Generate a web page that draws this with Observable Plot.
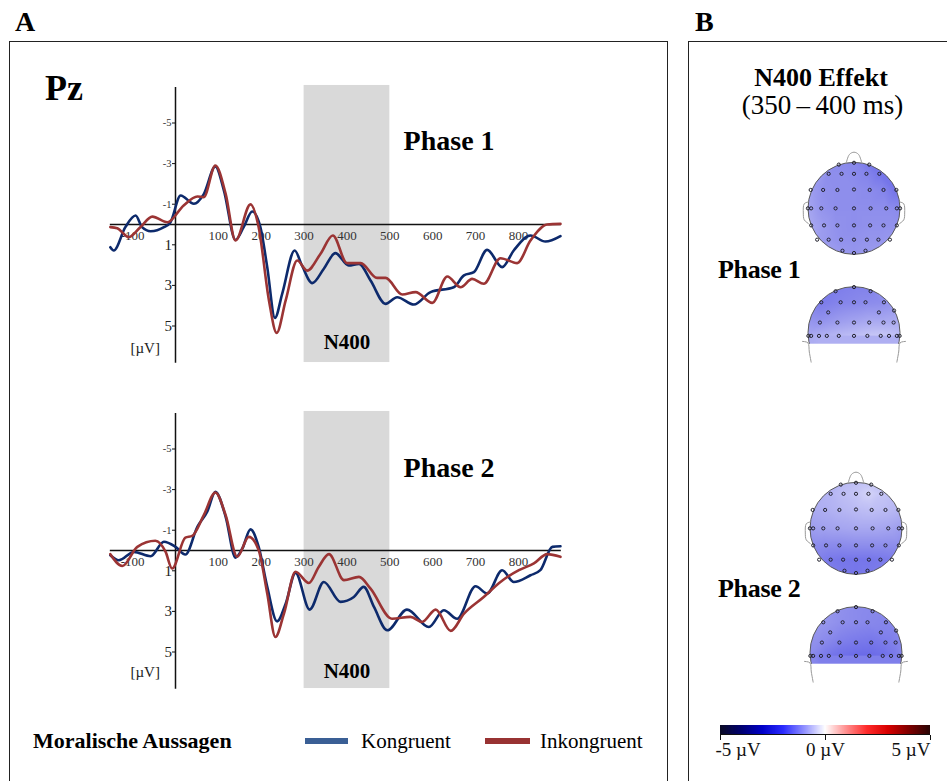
<!DOCTYPE html>
<html>
<head>
<meta charset="utf-8">
<script src="https://cdn.jsdelivr.net/npm/d3@7"></script>
<script src="https://cdn.jsdelivr.net/npm/@observablehq/plot@0.6"></script>
<style>
  body { margin: 0; background: #fff; }
  #fig { position: relative; width: 947px; height: 781px; overflow: hidden; background: #fff;
         font-family: "Liberation Serif", "Times New Roman", serif; color: #000; }
  .abs { position: absolute; line-height: 1; white-space: nowrap; }
  .box { position: absolute; border: 1.4px solid #222; }
  .b { font-weight: bold; }
</style>
</head>
<body>
<div id="fig">
  <div class="box" style="left:9px;top:41px;width:657px;height:780px;"></div>
  <div class="box" style="left:688px;top:41px;width:290px;height:780px;"></div>
  <div class="abs b" style="left:15px;top:8.3px;font-size:28px;">A</div>
  <div class="abs b" style="left:695px;top:8.3px;font-size:28px;">B</div>
  <div class="abs b" style="left:45px;top:69.9px;font-size:36px;">Pz</div>

  <div id="erp1" class="abs" style="left:100px;top:80px;"></div>
  <div id="erp2" class="abs" style="left:100px;top:406.3px;"></div>

  <div class="abs b" style="left:33px;top:729.9px;font-size:22px;">Moralische Aussagen</div>
  <div class="abs" style="left:305px;top:738px;width:43px;height:6px;background:#3a5f95;"></div>
  <div class="abs" style="left:361px;top:731.4px;font-size:21px;">Kongruent</div>
  <div class="abs" style="left:485px;top:738px;width:45px;height:6px;background:#983232;"></div>
  <div class="abs" style="left:540px;top:731.4px;font-size:21px;">Inkongruent</div>

  <div class="abs b" style="left:700px;width:242px;text-align:center;top:64.5px;font-size:26px;">N400 Effekt</div>
  <div class="abs" style="left:700px;width:245px;text-align:center;top:91.6px;font-size:27px;">(350&#8201;–&#8201;400 ms)</div>
  <div class="abs b" style="left:718px;top:256.5px;font-size:26px;letter-spacing:-0.3px;">Phase 1</div>
  <div class="abs b" style="left:718px;top:575.5px;font-size:26px;letter-spacing:-0.3px;">Phase 2</div>

  <div id="topo1" class="abs" style="left:788.5px;top:148.1px;"></div>
  <div id="topo2" class="abs" style="left:790.5px;top:468.1px;"></div>

  <div id="cbar" class="abs" style="left:710px;top:725px;"></div>
  <div class="abs" style="left:720px;top:734px;width:210px;height:1.2px;background:#111;"></div>
</div>

<script>
// ---------------- DATA ----------------
// ERP time axis (ms) and N400 window
const xTicks = [-100, 100, 200, 300, 400, 500, 600, 700, 800];
const yTicks = [-5, -3, -1, 1, 3, 5];
const n400Window = [{start: 300, end: 500}];

// Phase 1 — Kongruent (blue)
const p1KongT = [-152,-144,-117,-93,-78,-58,-27,-12,12,43,66,93,113,140,159,179,198,214,232,249,278,295,319,346,373,404,428,455,490,517,556,595,649,673,696,727,762,789,828,863,898];
const p1KongV = [1.12,1.28,0.13,-0.44,0.13,0.33,0.13,-0.1,-1.43,-1.02,-1.5,-2.86,-1.67,0.76,0.13,-0.64,0.13,2.1,4.6,3.4,1.28,2.02,2.89,2.18,1.41,2.02,1.94,2.76,3.91,3.58,3.94,3.33,3.09,2.51,2.35,1.25,2.1,1.28,0.54,0.84,0.57];
// Phase 1 — Inkongruent (red)
const p1InkT = [-152,-136,-109,-82,-54,-19,19,51,66,93,117,140,175,194,218,236,257,284,307,338,367,400,432,470,490,529,560,599,634,665,692,719,758,797,828,867,898];
const p1InkV = [0.13,0.18,0.62,0.13,-0.39,-0.11,-0.94,-1.38,-1.35,-2.91,-1.51,0.79,-0.99,0.13,3.74,5.34,3.74,1.77,2.27,1.45,0.54,1.9,1.9,2.63,2.63,3.45,3.33,3.86,2.56,3.09,2.68,2.92,1.66,1.9,0.79,0,-0.03];
// Phase 2 — Kongruent (blue)
const p2KongT = [-152,-132,-97,-58,-27,0,23,51,74,93,117,140,156,175,194,214,237,257,280,313,346,385,416,439,463,494,540,591,626,657,700,727,762,789,828,851,879,898];
const p2KongV = [0.23,0.48,0.07,0.28,-0.43,-0.18,0.2,-1.17,-1.91,-2.89,-1.66,0.35,-0.1,-1.04,-0.18,1.79,3.49,2.62,1.1,2.91,1.55,2.53,2.29,1.79,2.78,3.93,2.91,3.77,2.94,3.36,1.76,2.12,0.97,1.55,1.22,0.97,-0.18,-0.21];
// Phase 2 — Inkongruent (red)
const p2InkT = [-152,-124,-89,-47,-23,-8,23,39,66,93,117,144,171,194,214,233,253,280,311,334,358,393,428,455,505,548,575,607,642,673,719,758,801,836,867,898];
const p2InkV = [0.18,0.76,-0.18,-0.48,0.07,0.89,-0.63,-0.72,-1.74,-2.86,-1.74,0.31,-0.67,-0.02,2.12,4.26,3.11,1.05,1.6,0.81,0.18,1.46,1.3,1.88,3.36,3.27,3.52,2.91,3.96,3.11,2.29,1.55,0.97,0.64,0.18,0.31];

// Electrode layout (head-radius units), top view and back view
const topX = [-0.33,0,0.33, -0.55,-0.27,0,0.27,0.55, -0.94,-0.67,-0.36,0,0.34,0.64,0.92,
              -1.0,-0.93,-0.71,-0.4,0,0.36,0.7,0.93,1.0, -0.93,-0.65,-0.36,0,0.35,0.64,0.93,
              -0.8,-0.55,-0.28,0,0.28,0.53,0.78, -0.25,0,0.25];
const topY = [0.95,0.99,0.95, 0.75,0.75,0.75,0.75,0.75, 0.4,0.4,0.4,0.41,0.4,0.4,0.4,
              0,0,0,0,0,0,0,0,0, -0.37,-0.37,-0.37,-0.37,-0.37,-0.37,-0.37,
              -0.68,-0.68,-0.68,-0.68,-0.68,-0.68,-0.68, -0.92,-0.97,-0.92];
const backX = [0, -0.4,0.36, -0.71,-0.29,0,0.25,0.65, -0.56,0.54,0.87,
               -0.74,-0.36,0,0.33,0.64,0.86,
               -0.99,-0.93,-0.76,-0.59,-0.33,0,0.29,0.58,0.76,0.93,0.99];
const backY = [0.99, 0.9,0.9, 0.66,0.66,0.66,0.66,0.66, 0.44,0.44,0.48,
               0.22,0.22,0.22,0.22,0.22,0.22,
               -0.07,-0.07,-0.07,-0.07,-0.07,-0.07,-0.07,-0.07,-0.07,-0.07,-0.07];

// N400 effect amplitudes (µV) per electrode
const p1TopV = [-1.5,-1.55,-1.8, -1.45,-1.45,-1.5,-1.6,-1.85, -1.2,-1.4,-1.45,-1.45,-1.5,-1.6,-1.9,
                -1.1,-1.15,-1.35,-1.45,-1.45,-1.45,-1.45,-1.5,-1.5, -1.05,-1.25,-1.4,-1.45,-1.4,-1.4,-1.4,
                -1.2,-1.3,-1.4,-1.4,-1.35,-1.35,-1.3, -1.3,-1.35,-1.3];
const p1BackV = [-1.65, -1.7,-1.6, -1.75,-1.6,-1.55,-1.5,-1.45, -1.5,-1.25,-1.2,
                 -1.35,-1.2,-1.1,-1.0,-1.0,-1.0,
                 -1.05,-1.0,-0.95,-0.9,-0.8,-0.7,-0.6,-0.55,-0.6,-0.65,-0.7];
const p2TopV = [-0.8,-0.7,-0.6, -0.85,-0.7,-0.6,-0.45,-0.6, -1.0,-0.95,-0.85,-0.75,-0.7,-0.75,-0.85,
                -1.2,-1.2,-1.15,-1.1,-1.05,-1.05,-1.1,-1.2,-1.2, -1.45,-1.5,-1.5,-1.45,-1.45,-1.45,-1.45,
                -1.7,-1.8,-1.85,-1.85,-1.85,-1.8,-1.75, -1.8,-1.85,-1.8];
const p2BackV = [-1.5, -1.4,-1.55, -1.3,-1.45,-1.5,-1.55,-1.6, -1.45,-1.65,-1.6,
                 -1.5,-1.7,-1.8,-1.85,-1.75,-1.65,
                 -1.5,-1.55,-1.7,-1.85,-2.0,-2.1,-2.1,-2.0,-1.85,-1.7,-1.6];

// Head outline decorations (nose, ears, back-view ears)
const headParts = ["nose","nose","nose","nose","nose",
                   "earL","earL","earL","earL","earL",
                   "earR","earR","earR","earR","earR",
                   "backL","backL","backL","backL",
                   "backR","backR","backR","backR"];
const headPartX = [-0.17,-0.1,0,0.1,0.17, -0.99,-1.08,-1.1,-1.08,-0.99, 0.99,1.08,1.1,1.08,0.99,
                   -1.12,-1.0,-0.97,-0.93, 1.12,1.0,0.97,0.93];
const headPartY = [0.98,1.17,1.22,1.17,0.98, 0.14,0.1,-0.1,-0.25,-0.33, 0.14,0.1,-0.1,-0.25,-0.33,
                   -0.19,-0.22,-0.42,-0.64, -0.19,-0.22,-0.42,-0.64];
const backPartOffset = -2.7;

// Colour scales
const topoStops = [-2.5, -1.85, -1.45, -0.6, 0];
const topoColors = ["#5858e4", "#7676ea", "#8e8eec", "#c6c6f6", "#ffffff"];
const cbStops = [-5, -4.2, -3, -2, -1, 0, 1, 2, 3, 4.2, 5];
const cbColors = ["#0b0b26","#000070","#0000c8","#2b2bff","#9090ff","#ffffff","#ff9090","#ff2b2b","#d80000","#800000","#2a0505"];

// ---------------- DRAWING ----------------
const SERIF = "'Liberation Serif', 'Times New Roman', serif";
const BLUE = "#0d2a6c", RED = "#9b3434";

function erpPlot(kT, kV, iT, iV, label, labelY, n400Y, unitY) {
  const kong = kT.map((t, i) => ({t, v: kV[i]}));
  const inko = iT.map((t, i) => ({t, v: iV[i]}));
  return Plot.plot({
    width: 470, height: 290, margin: 0,
    x: {domain: [-174.95, 921.4], axis: null},
    y: {domain: [7.192, -7.094], axis: null},
    style: {fontFamily: SERIF, background: "transparent", overflow: "visible"},
    marks: [
      Plot.rect(n400Window, {x1: "start", x2: "end", y1: () => -6.85, y2: () => 6.8, fill: "#d9d9d9"}),
      Plot.ruleY([0], {x1: () => -152, x2: () => 900, stroke: "#111", strokeWidth: 1.3}),
      Plot.ruleX([0], {y1: () => -6.75, y2: () => 6.83, stroke: "#111", strokeWidth: 1.5}),
      Plot.ruleY(yTicks, {y: d => d, x1: () => -7, x2: () => 0, stroke: "#111", strokeWidth: 1}),
      Plot.text(xTicks, {x: d => d, y: () => 0, dy: 11, text: d => String(d), fontSize: 13, fill: "#333"}),
      Plot.text(yTicks.filter(d => d < 0), {x: () => 0, y: d => d, dx: -4, text: d => String(d), textAnchor: "end", fontSize: 10.5, fill: "#333"}),
      Plot.text(yTicks.filter(d => d > 0), {x: () => 0, y: d => d, dx: -3.5, text: d => String(d), textAnchor: "end", fontSize: 15, fill: "#222"}),
      Plot.line(kong, {x: "t", y: "v", stroke: BLUE, strokeWidth: 2.6, curve: "monotone-x"}),
      Plot.line(inko, {x: "t", y: "v", stroke: RED, strokeWidth: 2.6, curve: "monotone-x"}),
      Plot.text([label], {x: () => 532, y: () => labelY, text: d => d, textAnchor: "start", fontSize: 28, fontWeight: "bold"}),
      Plot.text(["N400"], {x: () => 400, y: () => n400Y, text: d => d, fontSize: 21, fontWeight: "bold"}),
      Plot.text(["[µV]"], {x: () => -70.7, y: () => unitY, text: d => d, fontSize: 15, fill: "#222"})
    ]
  });
}

document.getElementById("erp1").appendChild(erpPlot(p1KongT, p1KongV, p1InkT, p1InkV, "Phase 1", -4.09, 5.79, 6.07));
document.getElementById("erp2").appendChild(erpPlot(p2KongT, p2KongV, p2InkT, p2InkV, "Phase 2", -4.07, 5.93, 6.0));

const NS = "http://www.w3.org/2000/svg";
function topomap(topV, backV, id) {
  const topData = topX.map((x, i) => ({x, y: topY[i], v: topV[i]}));
  const backData = backX.map((x, i) => ({x, y: backY[i] + backPartOffset, v: backV[i]}));
  const deco = headParts.map((p, i) => ({p, x: headPartX[i], y: headPartY[i] + (p.startsWith("back") ? backPartOffset : 0)}));
  const svg = Plot.plot({
    width: 129, height: 221, margin: 0,
    x: {domain: [-1.4, 1.4], axis: null},
    y: {domain: [-3.5, 1.3], axis: null},
    color: {type: "linear", domain: topoStops, range: topoColors},
    style: {background: "transparent", overflow: "visible"},
    marks: [
      Plot.raster(topData, {x: "x", y: "y", fill: "v", x1: -1.03, x2: 1.03, y1: -1.03, y2: 1.03, interpolate: "barycentric"}),
      Plot.raster(backData, {x: "x", y: "y", fill: "v", x1: -1.03, x2: 1.03, y1: backPartOffset - 0.24, y2: backPartOffset + 1.03, interpolate: "barycentric"}),
      Plot.dot([{x: 0, y: 0}], {x: "x", y: "y", r: 46, stroke: "#5a5a5a", strokeWidth: 1, fill: "none"}),
      Plot.dot([{x: 0, y: backPartOffset}], {x: "x", y: "y", r: 46, stroke: "#5a5a5a", strokeWidth: 1, fill: "none"}),
      Plot.line(deco, {x: "x", y: "y", z: "p", stroke: "#999", strokeWidth: 1, curve: "catmull-rom"}),
      Plot.dot(topData, {x: "x", y: "y", r: 1.6, stroke: "#22222e", strokeWidth: 1, fill: "none"}),
      Plot.dot(backData, {x: "x", y: "y", r: 1.6, stroke: "#22222e", strokeWidth: 1, fill: "none"})
    ]
  });
  const sx = svg.scale("x"), sy = svg.scale("y");
  const cx = sx.apply(0), cyT = sy.apply(0), cyB = sy.apply(backPartOffset), cut = sy.apply(backPartOffset - 0.24);
  const defs = document.createElementNS(NS, "defs");
  svg.insertBefore(defs, svg.firstChild);
  function clip(cid, el) {
    const cp = document.createElementNS(NS, "clipPath");
    cp.setAttribute("id", cid); cp.appendChild(el); defs.appendChild(cp);
  }
  const c1 = document.createElementNS(NS, "circle");
  c1.setAttribute("cx", cx); c1.setAttribute("cy", cyT); c1.setAttribute("r", 46);
  clip(id + "-top", c1);
  const c2 = document.createElementNS(NS, "circle");
  c2.setAttribute("cx", cx); c2.setAttribute("cy", cyB); c2.setAttribute("r", 46);
  clip(id + "-back", c2);
  const r3 = document.createElementNS(NS, "rect");
  r3.setAttribute("x", 0); r3.setAttribute("y", 0); r3.setAttribute("width", 129); r3.setAttribute("height", cut);
  clip(id + "-cut", r3);
  // wrap each raster image in a plain group so the clip uses the plot's coordinates
  const imgs = Array.from(svg.querySelectorAll("image"));
  imgs.forEach((img, k) => {
    const g = document.createElementNS(NS, "g");
    g.setAttribute("clip-path", `url(#${id}-${k === 0 ? "top" : "back"})`);
    img.parentNode.insertBefore(g, img);
    g.appendChild(img);
  });
  const dots = svg.querySelectorAll('g[aria-label="dot"]');
  if (dots[1]) dots[1].setAttribute("clip-path", `url(#${id}-cut)`);
  return svg;
}

document.getElementById("topo1").appendChild(topomap(p1TopV, p1BackV, "t1"));
document.getElementById("topo2").appendChild(topomap(p2TopV, p2BackV, "t2"));

const cb = Plot.legend({
  color: {type: "linear", domain: cbStops, range: cbColors},
  width: 230, height: 38, marginLeft: 10, marginRight: 10, marginTop: 0, marginBottom: 28,
  tickSize: 5, ticks: [-5, 0, 5], tickFormat: d => d + " µV",
  style: {fontFamily: SERIF, fontSize: "19px", color: "#111", background: "transparent", overflow: "visible"}
});
document.getElementById("cbar").appendChild(cb);
const cbTexts = cb.querySelectorAll("text");
if (cbTexts.length >= 3) {
  cbTexts[0].setAttribute("text-anchor", "start");
  cbTexts[0].setAttribute("x", -5);
  cbTexts[cbTexts.length - 1].setAttribute("text-anchor", "end");
}
cb.querySelectorAll(".tick line").forEach(l => l.setAttribute("y1", 0));
</script>
</body>
</html>
